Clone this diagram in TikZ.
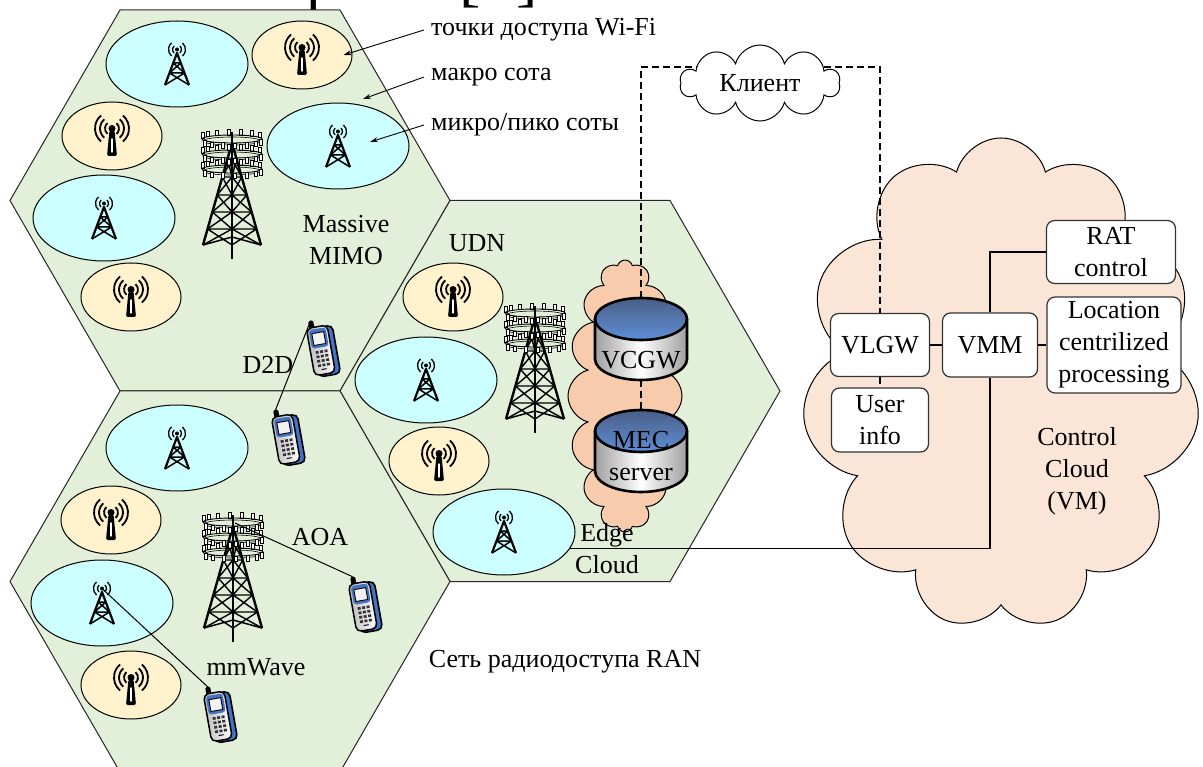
\documentclass[tikz,border=0pt]{standalone}
\usepackage{fontspec}
\setmainfont{Liberation Serif}
\usetikzlibrary{shapes.geometric,shapes.symbols,arrows.meta}

\definecolor{hexgreen}{HTML}{E2EFD9}
\definecolor{picoblue}{HTML}{CCFFFF}
\definecolor{wifigold}{HTML}{FFF2CC}
\definecolor{edgesalmon}{HTML}{F8CBAD}
\definecolor{ctlpeach}{HTML}{FBE5D6}
\definecolor{phoneblue}{HTML}{4472C4}
\definecolor{disktop}{HTML}{4A5F85}
\definecolor{diskbottom}{HTML}{5E8ED8}

\tikzset{
	hexcell/.style={draw=black!85, fill=hexgreen, line width=1pt},
	picocell/.style={ellipse, draw, fill=picoblue, line width=1pt, minimum width=142pt, minimum height=86pt},
	wificell/.style={ellipse, draw, fill=wifigold, line width=1pt, minimum width=100pt, minimum height=68pt},
	ctlbox/.style={draw=black!80, fill=white, rounded corners=8pt, line width=1.2pt, align=center, inner sep=2pt},
	dashlink/.style={dash pattern=on 7pt off 4pt, line width=1.2pt},
	callout/.style={anchor=west, inner xsep=7pt},
	ptr/.style={-{Stealth[length=8pt,width=5pt]}, line width=0.9pt},
	% small cell tower with waves
	celltower/.pic={
		\fill (0,-14.5) circle (2);
		\foreach \r in {4.5,8.5}
		{
			\draw[line width=1.3pt] (0,-14.5) ++(-50:\r) arc[start angle=-50, end angle=50, radius=\r];
			\draw[line width=1.3pt] (0,-14.5) ++(130:\r) arc[start angle=130, end angle=230, radius=\r];
		}
		\draw[line width=2.2pt, line join=round] (-12,21) -- (0,-11) -- (12,21);
		\draw[line width=1.5pt] (-3.8,-1) -- (3.8,-1) (-7.5,9) -- (7.5,9)
			(-3.8,-1) -- (7.5,9) (3.8,-1) -- (-7.5,9)
			(-7.5,9) -- (12,21) (7.5,9) -- (-12,21);
		\coordinate (-top) at (0,-14.5);
	},
	% wifi access point
	wifiap/.pic={
		\foreach \r in {7,12,17}
		{
			\draw[line width=1.8pt] (0,-7.5) ++(-50:\r) arc[start angle=-50, end angle=50, radius=\r];
			\draw[line width=1.8pt] (0,-7.5) ++(130:\r) arc[start angle=130, end angle=230, radius=\r];
		}
		\fill (0,-7.5) circle (3.5);
		\fill[rounded corners=2pt] (-2.5,-6) -- (2.5,-6) -- (5,20) -- (-5,20) -- cycle;
		\draw[white, line width=1.4pt, line cap=round] (0,3) -- (0,16);
	},
	% macro tower with antenna rings
	mimotower/.pic={
		\draw[line width=2.4pt, line join=round] (-29,50) -- (0,-52) -- (29,50);
		\draw[line width=2.6pt] (0,-63) -- (0,64);
		\draw[line width=1.5pt] (-29,50) -- (0,42) -- (29,50);
		\foreach \ya/\yb in {-36/-18,-18/0,0/17,17/34,34/50}
		{
			\pgfmathsetmacro{\xa}{29*(\ya+52)/102}
			\pgfmathsetmacro{\xb}{29*(\yb+52)/102}
			\draw[line width=1.4pt] (-\xa,\ya) -- (0,\yb) (0,\ya) -- (-\xb,\yb)
				(\xa,\ya) -- (0,\yb) (0,\ya) -- (\xb,\yb) (-\xa,\ya) -- (\xa,\ya);
		}
		\foreach \yr in {-56,-41,-26}
		{
			\foreach \a in {192,216,...,348}
				\draw[fill=white, line width=0.7pt] (0,\yr) ++(\a:30 and 4) +(-1.5,-5.5) rectangle +(1.5,0);
			\draw[line width=0.9pt] (0,\yr) ellipse[x radius=30, y radius=4];
			\draw[line width=0.6pt] (0,\yr+2) ellipse[x radius=29, y radius=4];
			\foreach \a in {12,36,...,168}
				\draw[fill=white, line width=0.7pt] (0,\yr) ++(\a:30 and 4) +(-1.5,0) rectangle +(1.5,5.5);
		}
		\coordinate (-top) at (2,-55);
	},
	% mobile handset
	handset/.pic={
		\fill[rounded corners=1.5pt] (-10,-29) rectangle (-5,-18);
		\filldraw[fill=phoneblue, line width=1.6pt, rounded corners=5pt] (-9,-21) rectangle (13,28);
		\filldraw[left color=gray!55, right color=white, line width=1.5pt, rounded corners=5pt] (-13,-22) rectangle (8,26);
		\fill[phoneblue, rounded corners=3pt] (-11,-20) rectangle (6,-1);
		\filldraw[fill=gray!10, line width=0.9pt] (-8.5,-16) rectangle (3.5,-4);
		\foreach \kx in {-8,-3.5,1}
			\foreach \ky in {2,6.5,11,15.5}
				\fill[black!80] (\kx,\ky) rectangle ++(3,2.6);
		\draw[line width=1pt] (-5,21) -- (0,21);
		\coordinate (-ant) at (-7.5,-29);
	},
	% storage cylinder with label
	dbdisk/.pic={
		\path[left color=gray!75, right color=gray!75, middle color=white]
			(-46,-20) -- (-46,20) arc[start angle=180, end angle=0, x radius=46, y radius=21]
			-- (46,-20) arc[start angle=0, end angle=180, x radius=46, y radius=21] -- cycle;
		\path[top color=disktop, bottom color=diskbottom] (0,-20) ellipse[x radius=46, y radius=21];
		\draw[line width=2.6pt] (0,-20) ellipse[x radius=46, y radius=21];
		\draw[line width=2.6pt] (-46,-20) -- (-46,20) arc[start angle=180, end angle=0, x radius=46, y radius=21] -- (46,-20);
		\node[anchor=south, inner sep=0pt, align=center] at (0,30) {#1};
		\coordinate (-top) at (0,-41);
		\coordinate (-bot) at (0,41);
	}
}

\begin{document}
\begin{tikzpicture}[x=1pt, y=-1pt, font=\fontsize{26}{32}\selectfont]
	\useasboundingbox (0,0) rectangle (1203,767);

	% cut caption line above
	\node[font=\fontsize{64}{64}\selectfont, anchor=base] (capr) at (322,0) {р};
	\node[font=\fontsize{64}{64}\selectfont, anchor=base] (capl) at (470,0) {[};
	\node[font=\fontsize{64}{64}\selectfont, anchor=base] (capb) at (527,0) {]};

	% three cells of the RAN
	\foreach \cx/\cy in {230/200.5, 560/391, 230/581.5}
		\draw[hexcell] (\cx-220,\cy) -- (\cx-110,\cy-190.5) -- (\cx+110,\cy-190.5)
			-- (\cx+220,\cy) -- (\cx+110,\cy+190.5) -- (\cx-110,\cy+190.5) -- cycle;

	\foreach \n/\x/\y in {b1/177/64, b2/338/146, b3/104/218, b4/426/380, b5/504/532, b6/177/448, b7/102/603}
	{
		\node[picocell] (\n) at (\x,\y) {};
		\pic (t\n) at (\n) {celltower};
	}
	\foreach \n/\x/\y in {w1/302/55, w2/112/136, w3/131/297, w4/453/297, w5/439/461, w6/111/520, w7/131/685}
	{
		\node[wificell] (\n) at (\x,\y) {};
		\pic at (\n) {wifiap};
	}

	\pic (bs1) at (232,195) {mimotower};
	\pic (bs2) at (535,369) {mimotower};
	\pic (bs3) at (233,578) {mimotower};

	\pic[rotate=10] (ue1) at (323,348) {handset};
	\pic[rotate=10] (ue2) at (288,437) {handset};
	\pic[rotate=10] (ue3) at (365,604) {handset};
	\pic[rotate=10] (ue4) at (220,714) {handset};

	\draw[line width=1pt] (ue1-ant) -- (ue2-ant);
	\draw[line width=1pt] (bs3-top) -- (ue3-ant);
	\draw[line width=1pt] (tb7-top) -- (ue4-ant);

	% clouds
	\node[cloud, cloud puffs=16, cloud ignores aspect, draw, fill=edgesalmon, line width=1pt,
		minimum width=114pt, minimum height=272pt] (ecloud) at (625,396) {};
	\node[cloud, cloud puffs=11, cloud ignores aspect, draw, fill=ctlpeach, line width=1pt,
		minimum width=398pt, minimum height=492pt] (ccloud) at (1001,384) {};
	\node[cloud, cloud puffs=10, cloud ignores aspect, draw, fill=white, line width=1pt,
		minimum width=160pt, minimum height=76pt] (client) at (760,83) {Клиент};

	\node[align=center] (mimo) at (346,240) {Massive\\MIMO};
	\node (d2d) at (268,365) {D2D};
	\node (udn) at (477,243) {UDN};
	\node (aoa) at (320,537) {AOA};
	\node (mmw) at (256,667) {mmWave};
	\node (ran) at (565,662) {Сеть радиодоступа RAN};
	\node[align=center] (edge) at (607,549) {Edge\\Cloud};

	% control functions
	\node[ctlbox, minimum width=99pt, minimum height=63pt] (vlgw) at (880,345) {VLGW};
	\node[ctlbox, minimum width=95pt, minimum height=64pt] (vmm) at (990,345) {VMM};
	\node[ctlbox, minimum width=129pt, minimum height=63pt] (rat) at (1111,252) {RAT\\control};
	\node[ctlbox, minimum width=134pt, minimum height=96pt] (loc) at (1114,345) {Location\\centrilized\\processing};
	\node[ctlbox, minimum width=97pt, minimum height=64pt] (uinfo) at (880,420) {User\\info};
	\node[align=center] (cctext) at (1077,471) {Control\\Cloud\\(VM)};

	\draw[line width=1.2pt] (b5.-14) -| (vmm.south);
	\draw[line width=1.2pt] (vmm.north) |- (rat.west);
	\draw[line width=1.2pt] (vlgw) -- (vmm);
	\draw[line width=1.2pt] (vmm) -- (loc);

	\pic (vcgw) at (641,339) {dbdisk={VCGW}};
	\pic (mec) at (641,451) {dbdisk={MEC\\server}};

	\draw[dashlink] (vcgw-top) |- (client.166);
	\draw[dashlink] (client.14) -| (vlgw.north);
	\draw[dashlink] (vlgw.south) -- (uinfo.north);
	\draw[dashlink] (vcgw-bot) -- (mec-top);

	% legend callouts
	\node[callout] (lblwifi) at (424,30) {точки доступа Wi-Fi};
	\node[callout] (lblmacro) at (424,77) {макро сота};
	\node[callout] (lblpico) at (424,125) {микро/пико соты};
	\coordinate (macrotip) at (363,99);
	\coordinate (picotip) at (370,142);
	\draw[ptr] (lblwifi.west) -- ([xshift=-9pt]w1.east);
	\draw[ptr] (lblmacro.west) -- (macrotip);
	\draw[ptr] (lblpico.west) -- (picotip);
\end{tikzpicture}
\end{document}
